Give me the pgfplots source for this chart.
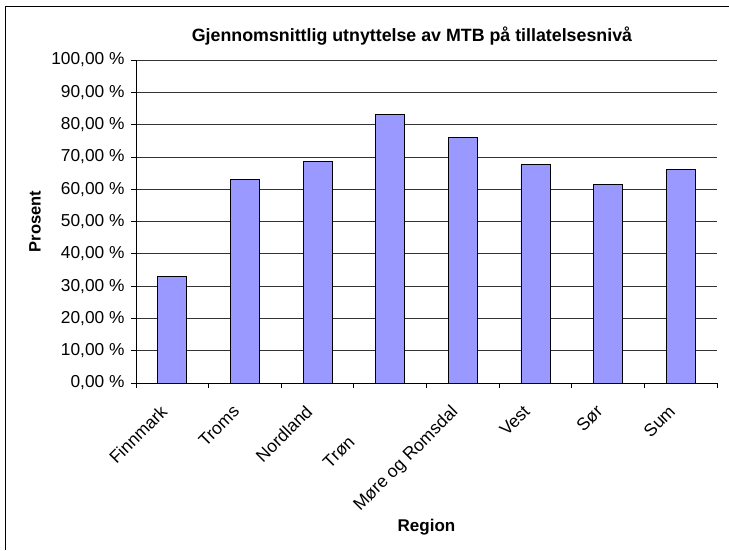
\documentclass[border=0pt]{standalone}
\usepackage{pgfplots}
\pgfplotsset{compat=1.18}
\usepackage{fontspec}
\setmainfont{Liberation Sans}
\definecolor{barfill}{HTML}{9999FF}
\begin{document}
\begin{tikzpicture}[x=1pt,y=1pt]
\path[use as bounding box] (0,0) rectangle (729,550);
\draw[black, line width=1pt] (5.5,0) -- (5.5,543) -- (729,543);
\begin{axis}[
  at={(136pt,167pt)}, anchor=south west,
  width=581pt, height=323pt, scale only axis,
  xmin=0.5, xmax=8.5, ymin=0, ymax=100,
  axis x line*=bottom, axis y line*=left,
  axis line style={black, line width=0.8pt},
  ybar, bar width=29pt,
  ytick={0,10,...,100},
  yticklabels={{0,00 \%},{10,00 \%},{20,00 \%},{30,00 \%},{40,00 \%},{50,00 \%},{60,00 \%},{70,00 \%},{80,00 \%},{90,00 \%},{100,00 \%}},
  yticklabel style={font=\fontsize{17.3}{20}\selectfont, xshift=-3pt},
  ymajorgrids, major grid style={black!80, line width=0.7pt},
  tick align=outside, major tick length=5pt,
  tick style={black, line width=0.8pt},
  xtick={0.5,1.5,...,8.5}, xticklabels={},
  extra x ticks={1,2,3,4,5,6,7,8},
  extra x tick labels={Finnmark,Troms,Nordland,Trøn\phantom{delag},Møre og Romsdal,Vest,Sør,Sum},
  extra x tick style={major tick length=0pt, grid=none},
  xticklabel style={font=\fontsize{17.5}{20}\selectfont, rotate=45, anchor=north east, inner sep=1pt, xshift=-23pt, yshift=-4.5pt},
  title={Gjennomsnittlig utnyttelse av MTB på tillatelsesnivå},
  title style={font=\bfseries\fontsize{17.8}{20}\selectfont, at={(axis description cs:0.475,1)}, anchor=base, yshift=13pt},
  ylabel={Prosent},
  ylabel style={font=\bfseries\fontsize{16.5}{19}\selectfont, at={(axis description cs:-0.174,0.5)}, anchor=center},
  xlabel={Region},
  xlabel style={font=\bfseries\fontsize{17}{19}\selectfont, at={(axis description cs:0.5,-0.446)}, anchor=center},
]
\addplot[fill=barfill, draw=black, line width=0.8pt] coordinates {
  (1,32.9) (2,63.0) (3,68.6) (4,83.2) (5,76.0) (6,67.6) (7,61.5) (8,66.1)
};
\end{axis}
\end{tikzpicture}
\end{document}
